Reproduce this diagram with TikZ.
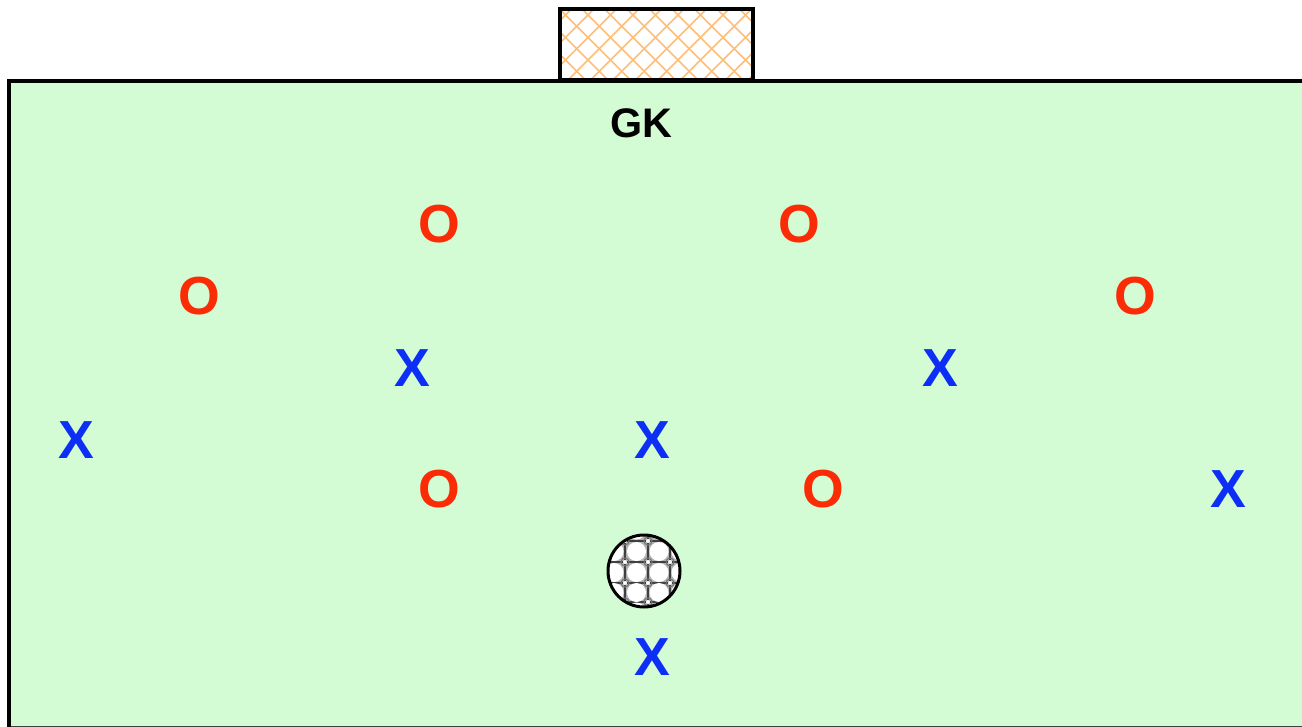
\documentclass[tikz,border=0pt]{standalone}
\usepackage{fontspec}
\setmainfont{Liberation Sans}
\definecolor{hexcolorpitch}{rgb}{0.831,0.988,0.831}
\definecolor{hexcolorred}{rgb}{0.980,0.170,0.020}
\definecolor{hexcolorblue}{rgb}{0.050,0.180,0.960}
\definecolor{hexcolornet}{rgb}{1.000,0.745,0.470}
\definecolor{myblack}{rgb}{0.000,0.000,0.000}
\definecolor{mywhite}{rgb}{1.000,1.000,1.000}
\tikzstyle{setX}=[text=hexcolorblue,font=\fontsize{30.5}{30.5}\selectfont\bfseries,inner sep=0pt]
\tikzstyle{setO}=[text=hexcolorred,font=\fontsize{30.5}{30.5}\selectfont\bfseries,inner sep=0pt]
\tikzstyle{keeper}=[text=myblack,font=\fontsize{23.5}{23.5}\selectfont\bfseries,inner sep=0pt]
\tikzstyle{net}=[hexcolornet,line width=0.85pt]
\tikzstyle{seam}=[myblack!75,line width=1pt]
\begin{document}
\begin{tikzpicture}[x=0.02cm,y=-0.02cm]
	\useasboundingbox (0,0) rectangle (1302,727);
	% pitch
	\fill [hexcolorpitch] (9,81) rectangle (1302,727);
	\draw [myblack!75,line width=0.6pt] (9,726.5) -- (1302,726.5);
	\draw [myblack,line width=2.6pt] (9,727) -- (9,81) -- (1302,81);
	% goal
	\fill [mywhite] (560,9) rectangle (753,80);
	\begin{scope}
		\clip (560,9) rectangle (753,80);
		\foreach \k in {-2,...,11} \draw [net] (518+22.5*\k,85) -- (598+22.5*\k,5);
		\foreach \k in {-5,...,8} \draw [net] (578+22.5*\k,5) -- (658+22.5*\k,85);
	\end{scope}
	\draw [myblack,line width=2.8pt] (560,9) rectangle (753,80);
	% ball
	\fill [myblack!30] (644,571) circle (36);
	\begin{scope}
		\clip (644,571) circle (36);
		\foreach \a in {562,583} \draw [seam] (600,\a) -- (690,\a);
		\foreach \a in {541,602} \draw [seam] (605,\a) -- (685,\a);
		\foreach \a in {625,648,670} \draw [seam] (\a,530) -- (\a,610);
		\foreach \a in {614,636.5,659,681} \foreach \b in {530,551.5,572.5,592.5,612}
			\fill [mywhite] (\a,\b) circle (9.5);
		\foreach \a in {625,648,670} \foreach \b in {541,562,583,602} {
			\draw [myblack!55,line width=0.6pt] (\a,\b) circle (4);
			\fill [mywhite] (\a,\b) circle (2);
		}
	\end{scope}
	\draw [myblack,line width=1.7pt] (644,571) circle (36);
	% players
	\node [style=keeper] (gk) at (641,123) {GK};
	\node [style=setO] (o0) at (439,224) {O};
	\node [style=setO] (o1) at (799,224) {O};
	\node [style=setO] (o2) at (199,296) {O};
	\node [style=setO] (o3) at (1135,296) {O};
	\node [style=setO] (o4) at (439,489) {O};
	\node [style=setO] (o5) at (823,489) {O};
	\node [style=setX] (x0) at (412,368) {X};
	\node [style=setX] (x1) at (940,368) {X};
	\node [style=setX] (x2) at (76,440) {X};
	\node [style=setX] (x3) at (652,440) {X};
	\node [style=setX] (x4) at (1228,489) {X};
	\node [style=setX] (x5) at (652,657) {X};
\end{tikzpicture}
\end{document}
